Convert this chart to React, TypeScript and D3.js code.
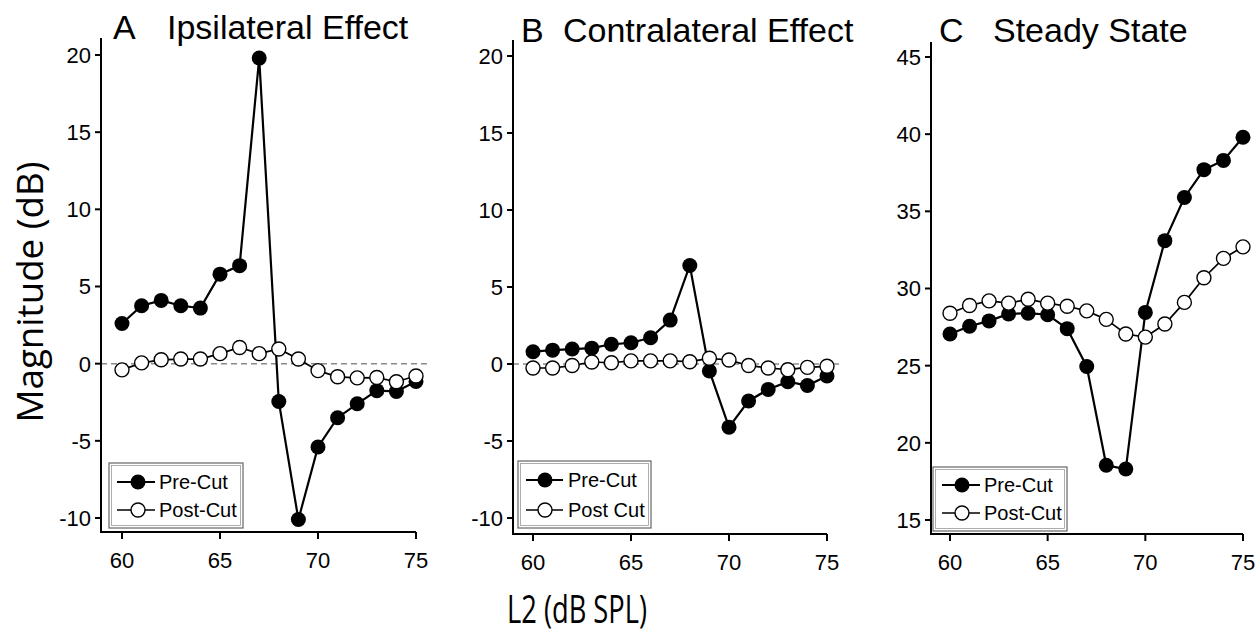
import React from "react";
import * as d3 from "d3";

const levels = [60, 61, 62, 63, 64, 65, 66, 67, 68, 69, 70, 71, 72, 73, 74, 75];
const xTicks = [60, 65, 70, 75];

const ipsiPre = [2.6, 3.75, 4.1, 3.75, 3.6, 5.8, 6.35, 19.8, -2.45, -10.1, -5.4, -3.5, -2.6, -1.75, -1.8, -1.15];
const ipsiPost = [-0.4, 0.05, 0.25, 0.3, 0.3, 0.65, 1.05, 0.65, 0.95, 0.3, -0.45, -0.85, -0.92, -0.9, -1.17, -0.8];

const contraPre = [0.8, 0.9, 0.97, 1.03, 1.28, 1.38, 1.7, 2.85, 6.4, -0.45, -4.1, -2.4, -1.65, -1.15, -1.4, -0.78];
const contraPost = [-0.26, -0.26, -0.1, 0.13, 0.08, 0.2, 0.2, 0.2, 0.15, 0.37, 0.26, -0.1, -0.26, -0.37, -0.22, -0.15];

const steadyPre = [27.05, 27.55, 27.9, 28.35, 28.4, 28.3, 27.4, 24.95, 18.55, 18.3, 28.45, 33.1, 35.9, 37.7, 38.3, 39.8];
const steadyPost = [28.4, 28.9, 29.2, 29.05, 29.3, 29.05, 28.85, 28.55, 28.0, 27.05, 26.85, 27.7, 29.1, 30.7, 31.95, 32.7];

const effectTicks = [-10, -5, 0, 5, 10, 15, 20];
const steadyTicks = [15, 20, 25, 30, 35, 40, 45];

const panels = [
  {
    letter: "A", title: "Ipsilateral Effect", pre: ipsiPre, post: ipsiPost,
    preLabel: "Pre-Cut", postLabel: "Post-Cut", yTicks: effectTicks, yDomain: [20, -10],
    layout: { letterX: 113, titleX: 167, titleY: 39, axisX: 101, x60: 122, x75: 416, yTop: 38, xAxisY: 532, yR: [55, 518], dashed: true,
      legend: { x: 109, y: 463, w: 134, h: 65, row1: 482, row2: 510, lx1: 117, lx2: 155, mx: 138, tx: 159 } },
  },
  {
    letter: "B", title: "Contralateral Effect", pre: contraPre, post: contraPost,
    preLabel: "Pre-Cut", postLabel: "Post Cut", yTicks: effectTicks, yDomain: [20, -10],
    layout: { letterX: 521, titleX: 563, titleY: 42, axisX: 513, x60: 533, x75: 827, yTop: 40, xAxisY: 534, yR: [56, 518], dashed: true,
      legend: { x: 518, y: 461, w: 133, h: 67, row1: 480, row2: 510, lx1: 526, lx2: 563, mx: 545, tx: 568 } },
  },
  {
    letter: "C", title: "Steady State", pre: steadyPre, post: steadyPost,
    preLabel: "Pre-Cut", postLabel: "Post-Cut", yTicks: steadyTicks, yDomain: [45, 15],
    layout: { letterX: 939, titleX: 993, titleY: 42, axisX: 931, x60: 950, x75: 1243, yTop: 42, xAxisY: 534, yR: [57, 520], dashed: false,
      legend: { x: 933, y: 467, w: 134, h: 64, row1: 485, row2: 513, lx1: 942, lx2: 980, mx: 962, tx: 984 } },
  },
];

const SANS = "'Liberation Sans', Arial, Helvetica, sans-serif";
const AXT = "'Open Sans', 'Liberation Sans', sans-serif";

function Panel({ p }: { p: any }) {
  const L = p.layout;
  const x = d3.scaleLinear().domain([60, 75]).range([L.x60, L.x75]);
  const y = d3.scaleLinear().domain(p.yDomain).range(L.yR);
  const line = d3.line<number>().x((_, i) => x(levels[i])).y((v) => y(v));
  const lg = L.legend;
  return (
    <g>
      <text x={L.letterX} y={L.titleY} fontSize={34} fontFamily={SANS}>{p.letter}</text>
      <text x={L.titleX} y={L.titleY} fontSize={34} fontFamily={SANS}>{p.title}</text>
      {L.dashed && (
        <line x1={L.axisX} x2={x(75) + 14} y1={y(0)} y2={y(0)} stroke="#8a8a8a" strokeWidth={1.5} strokeDasharray="6 4" />
      )}
      <line x1={L.axisX} x2={L.axisX} y1={L.yTop} y2={L.xAxisY + 1} stroke="#000" strokeWidth={2} />
      <line x1={L.axisX - 1} x2={x(75)} y1={L.xAxisY} y2={L.xAxisY} stroke="#000" strokeWidth={2} />
      {p.yTicks.map((t: number) => (
        <g key={"y" + t}>
          <line x1={L.axisX - 6} x2={L.axisX} y1={y(t)} y2={y(t)} stroke="#000" strokeWidth={2} />
          <text x={L.axisX - 10} y={y(t)} dy="0.36em" textAnchor="end" fontSize={22} fontFamily={SANS}>{t}</text>
        </g>
      ))}
      {xTicks.map((t) => (
        <g key={"x" + t}>
          <line x1={x(t)} x2={x(t)} y1={L.xAxisY} y2={L.xAxisY + 7} stroke="#000" strokeWidth={2} />
          <text x={x(t)} y={L.xAxisY + 36} textAnchor="middle" fontSize={22} fontFamily={SANS}>{t}</text>
        </g>
      ))}
      <path d={line(p.pre) || ""} fill="none" stroke="#000" strokeWidth={2.2} />
      {p.pre.map((v: number, i: number) => (
        <circle key={"pre" + i} cx={x(levels[i])} cy={y(v)} r={7.5} fill="#000" />
      ))}
      <path d={line(p.post) || ""} fill="none" stroke="#000" strokeWidth={1.7} />
      {p.post.map((v: number, i: number) => (
        <circle key={"post" + i} cx={x(levels[i])} cy={y(v)} r={7} fill="#fff" stroke="#000" strokeWidth={1.4} />
      ))}
      <rect x={lg.x} y={lg.y} width={lg.w} height={lg.h} fill="#fff" stroke="#666" strokeWidth={1.2} />
      <rect x={lg.x + 2.5} y={lg.y + 2.5} width={lg.w - 5} height={lg.h - 5} fill="none" stroke="#999" strokeWidth={0.8} />
      <line x1={lg.lx1} x2={lg.lx2} y1={lg.row1} y2={lg.row1} stroke="#000" strokeWidth={2} />
      <circle cx={lg.mx} cy={lg.row1} r={7.5} fill="#000" />
      <text x={lg.tx} y={lg.row1} dy="0.36em" fontSize={20} fontFamily={SANS}>{p.preLabel}</text>
      <line x1={lg.lx1} x2={lg.lx2} y1={lg.row2} y2={lg.row2} stroke="#000" strokeWidth={1.6} />
      <circle cx={lg.mx} cy={lg.row2} r={7} fill="#fff" stroke="#000" strokeWidth={1.4} />
      <text x={lg.tx} y={lg.row2} dy="0.36em" fontSize={20} fontFamily={SANS}>{p.postLabel}</text>
    </g>
  );
}

export default function App() {
  return (
    <svg width={1259} height={633} style={{ position: "absolute", left: 0, top: 0, background: "#fff" }}>
      <rect x={0} y={0} width={1259} height={633} fill="#fff" />
      {panels.map((p) => (
        <Panel key={p.letter} p={p} />
      ))}
      <text transform="translate(43,292) rotate(-90)" textAnchor="middle" fontSize={37} fontFamily={AXT}
        textLength={261} lengthAdjust="spacingAndGlyphs">Magnitude (dB)</text>
      <text x={577} y={623} textAnchor="middle" fontSize={39} fontFamily={AXT}
        textLength={140} lengthAdjust="spacingAndGlyphs">L2 (dB SPL)</text>
    </svg>
  );
}
